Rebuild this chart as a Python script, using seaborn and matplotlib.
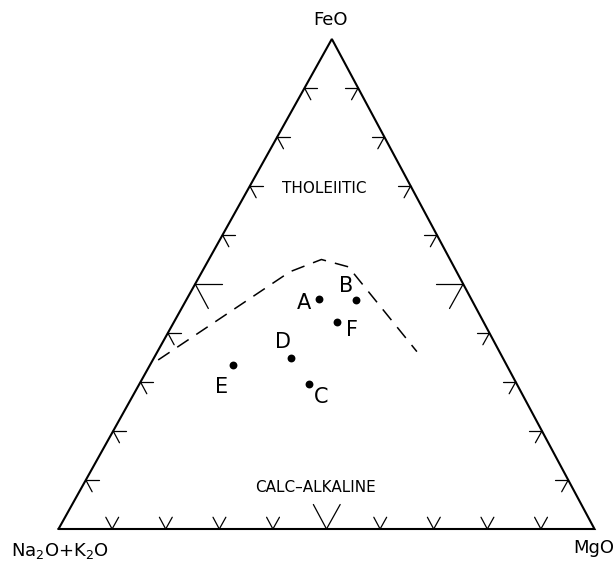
import numpy as np
import pandas as pd
import matplotlib
matplotlib.use('Agg')
import matplotlib.pyplot as plt
import seaborn as sns

# AFM diagram: samples as FeO / MgO percentages (Na2O+K2O = rest)
samples = ['A', 'B', 'F', 'D', 'E', 'C']
feo = [46.9, 46.7, 42.2, 34.8, 33.4, 29.6]
mgo = [24.6, 31.7, 30.5, 25.7, 15.6, 31.6]

# tholeiitic / calc-alkaline dividing line
line_feo = [34.5, 52.5, 55.0, 53.5, 36.2]
line_mgo = [1.0, 16.4, 21.0, 26.8, 48.4]

tick_vals = [10, 20, 30, 40, 50, 60, 70, 80, 90]

APEX_X = 0.51  # apex is drawn a little right of centre


def to_xy(f, m):
    f = np.asarray(f, dtype=float) / 100.0
    m = np.asarray(m, dtype=float) / 100.0
    return m + APEX_X * f, f


sns.set_style('white')
plt.rcParams['font.family'] = ['DejaVu Sans']
plt.rcParams['text.color'] = 'black'

fig = plt.figure(figsize=(6.15, 5.64), dpi=100)
ax = fig.add_axes([0, 0, 1, 1])

# triangle frame
tx, ty = to_xy([0, 0, 100, 0], [0, 100, 0, 0])
ax.plot(tx, ty, color='black', lw=1.5, solid_joinstyle='miter')

# ticks on each side (two short grid-line pieces at every 10%)
for v in tick_vals:
    t = 5.0 if v == 50 else 2.4
    # left side: M = 0, F = v
    for df, dm in [(0, t), (-t, t)]:
        x, y = to_xy([v, v + df], [0, dm])
        ax.plot(x, y, color='black', lw=0.9)
    # right side: A = 0, F = v
    for df, dm in [(0, -t), (-t, 0)]:
        x, y = to_xy([v, v + df], [100 - v, 100 - v + dm])
        ax.plot(x, y, color='black', lw=0.9)
    # bottom: F = 0, M = v
    for df, dm in [(t, 0), (t, -t)]:
        x, y = to_xy([0, df], [v, v + dm])
        ax.plot(x, y, color='black', lw=0.9)

# dividing line
lx, ly = to_xy(line_feo, line_mgo)
sns.lineplot(x=lx, y=ly, sort=False, estimator=None, color='black',
             lw=1.1, ax=ax)
ax.lines[-1].set_dashes([9, 6])

# samples
px, py = to_xy(feo, mgo)
df = pd.DataFrame({'x': px, 'y': py, 'name': samples})
sns.scatterplot(data=df, x='x', y='y', color='black', s=32,
                edgecolor='black', linewidth=0, ax=ax, legend=False)

offsets = {'A': (-10.8, -3.1), 'B': (-7.4, 10.0), 'F': (10.6, -5.3),
           'D': (-6.0, 12.2), 'E': (-8.4, -15.4), 'C': (8.6, -9.1)}
for _, r in df.iterrows():
    ax.annotate(r['name'], (r['x'], r['y']), xytext=offsets[r['name']],
                textcoords='offset points', ha='center', va='center',
                fontsize=15, color='black')

# field names and apex labels
ax.text(0.495, 0.695, 'THOLEIITIC', ha='center', va='center', fontsize=11)
ax.text(0.48, 0.085, 'CALC\u2013ALKALINE', ha='center', va='center',
        fontsize=11)
ax.text(APEX_X - 0.003, 1.038, 'FeO', ha='center', va='center', fontsize=13)
ax.text(-0.088, -0.044, r'Na$_2$O+K$_2$O', ha='left', va='center',
        fontsize=13)
ax.text(0.998, -0.039, 'MgO', ha='center', va='center', fontsize=13)

ax.set_xlim(-58.5 / 536, 1 + 20.5 / 536)
ax.set_ylim(-35 / 490, 1 + 39 / 490)
ax.axis('off')

fig.savefig('out.png', dpi=100, facecolor='white')
